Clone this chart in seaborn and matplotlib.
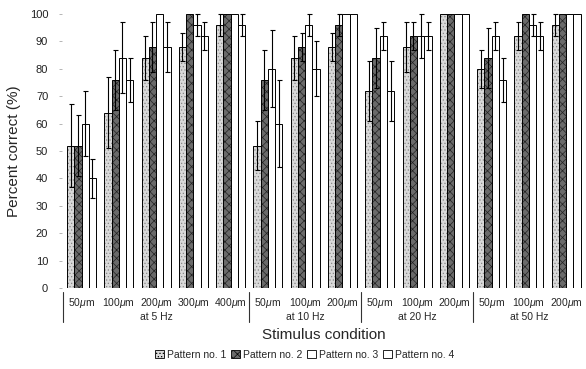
import matplotlib
matplotlib.use('Agg')
import matplotlib.pyplot as plt
import matplotlib.transforms as mtrans
from matplotlib.patches import Patch
import pandas as pd
import seaborn as sb

# conditions (amplitude / frequency)
amps = ['50', '100', '200', '300', '400',
        '50', '100', '200',
        '50', '100', '200',
        '50', '100', '200']
freqs = ['5', '5', '5', '5', '5',
         '10', '10', '10',
         '20', '20', '20',
         '50', '50', '50']
patterns = ['Pattern no. 1', 'Pattern no. 2', 'Pattern no. 3', 'Pattern no. 4']

# mean percent correct per pattern
p1 = [52, 64, 84, 88, 96, 52, 84, 88, 72, 88, 100, 80, 92, 96]
p2 = [52, 76, 88, 100, 100, 76, 88, 96, 84, 92, 100, 84, 100, 100]
p3 = [60, 84, 100, 96, 100, 80, 96, 100, 92, 92, 100, 92, 96, 100]
p4 = [40, 76, 88, 92, 96, 60, 80, 100, 72, 92, 100, 76, 92, 100]

# error (half length)
e1 = [15, 13, 8, 5, 4, 9, 8, 5, 11, 9, 0, 7, 5, 4]
e2 = [11, 11, 9, 0, 0, 11, 5, 4, 11, 5, 0, 11, 0, 0]
e3 = [12, 13, 0, 4, 0, 14, 4, 0, 5, 8, 0, 5, 4, 0]
e4 = [7, 8, 9, 5, 4, 16, 10, 0, 11, 5, 0, 8, 5, 0]

means = [p1, p2, p3, p4]
errs = [e1, e2, e3, e4]

conds = ['c%02d' % i for i in range(len(amps))]
rows = []
for k, pat in enumerate(patterns):
    for i, c in enumerate(conds):
        rows.append({'cond': c, 'pattern': pat, 'pct': means[k][i], 'err': errs[k][i]})
df = pd.DataFrame(rows)

sb.set_style('white')
plt.rcParams['font.family'] = ['Liberation Sans', 'DejaVu Sans']
plt.rcParams['hatch.linewidth'] = 0.5
plt.rcParams['mathtext.fontset'] = 'custom'
plt.rcParams['mathtext.it'] = 'Liberation Sans:italic'

fig = plt.figure(figsize=(5.86, 3.69), dpi=100)
ax = fig.add_axes([0.106, 0.2195, 0.892, 0.7425])

faces = ['#d9d9d9', '#6a6a6a', 'white', 'white']
hatches = ['.....', 'xxxx', '', '']
hcolors = ['#888888', '#222222', 'black', 'black']

sb.barplot(data=df, x='cond', y='pct', hue='pattern', palette=faces,
           errorbar=None, width=0.78, edgecolor='black', linewidth=0.7,
           legend=False, ax=ax)

bar_conts = list(ax.containers)
for k, cont in enumerate(bar_conts):
    xs, ys, es = [], [], []
    for i, bar in enumerate(cont):
        bar.set_hatch(hatches[k])
        bar._hatch_color = matplotlib.colors.to_rgba(hcolors[k])
        if errs[k][i] > 0:
            xs.append(bar.get_x() + bar.get_width() / 2)
            ys.append(means[k][i])
            es.append(errs[k][i])
    ax.errorbar(xs, ys, yerr=es, fmt='none', ecolor='black', elinewidth=0.8,
                capsize=1.8, capthick=0.8, clip_on=False, zorder=5)

ax.set_ylim(0, 100)
ax.set_xlim(-0.52, 13.5)
ax.set_yticks(range(0, 101, 10))
ax.tick_params(axis='y', labelsize=8, length=2, width=0.5, color='#999999', pad=8,
               left=True, labelcolor='#222222')
ax.set_xticks(range(len(amps)))
ax.set_xticklabels([a + r'$\mu$m' for a in amps], fontsize=7.5)
ax.tick_params(axis='x', length=0, pad=6)
for s in ax.spines.values():
    s.set_visible(False)

ax.set_xlabel('Stimulus condition', fontsize=11, labelpad=13)
ax.set_ylabel('Percent correct (%)', fontsize=11, labelpad=6)

trans = mtrans.blended_transform_factory(ax.transData, ax.transAxes)
# frequency group labels and separators
for lab, ctr in [('5', 2), ('10', 6), ('20', 9), ('50', 12)]:
    ax.text(ctr, -0.105, 'at %s Hz' % lab, transform=trans, ha='center', va='center',
            fontsize=7.5)
for sep in [-0.5, 4.5, 7.5, 10.5]:
    ax.plot([sep, sep], [-0.015, -0.125], transform=trans, color='#333333',
            linewidth=0.8, clip_on=False)

handles = [Patch(facecolor=faces[k], edgecolor='black', hatch=hatches[k], linewidth=0.6)
           for k in range(4)]
fig.legend(handles, patterns, loc='center', bbox_to_anchor=(0.52, 0.038), ncol=4,
           frameon=False, fontsize=7.5, handlelength=0.8, handleheight=0.8,
           handletextpad=0.3, columnspacing=0.5)

fig.savefig('out.png', dpi=100)
